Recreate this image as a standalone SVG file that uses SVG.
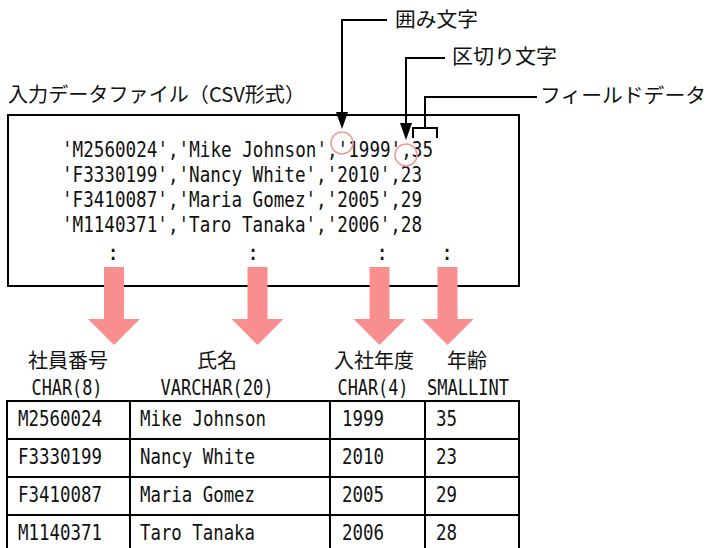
<svg xmlns="http://www.w3.org/2000/svg" width="708" height="548" viewBox="0 0 708 548">
<style>
.jp{font-family:"Noto Sans CJK JP","Noto Sans",sans-serif;font-size:20px;fill:#111}
.mono{font-family:"DejaVu Sans Mono","Liberation Mono",monospace;font-size:21px;fill:#111}
.typ{font-family:"DejaVu Sans Mono","Liberation Mono",monospace;font-size:22px;fill:#111}
.ln{stroke:#000;stroke-width:2;fill:none}
.circ{stroke:#f29a9a;stroke-width:1.6;fill:none}
.pk{fill:#f88e8e}
.cell{fill:#fff;stroke:#000;stroke-width:2}
</style>
<defs>
<marker id="ah" viewBox="0 0 17 12" refX="0" refY="6" markerWidth="17" markerHeight="12" markerUnits="userSpaceOnUse" orient="auto">
<path d="M0,0 L17,6 L0,12 Z" fill="#000"/>
</marker>
<path id="bigArrow" d="M-10,0 L10,0 L10,52 L26,52 L0,78 L-26,52 L-10,52 Z"/>
</defs>
<rect width="708" height="548" fill="#fff"/>

<g id="input-file">
<text class="jp" x="8" y="102" textLength="297" lengthAdjust="spacingAndGlyphs">入力データファイル（CSV形式）</text>
<rect x="8" y="115" width="511" height="171" fill="#fff" stroke="#000" stroke-width="2"/>
<text class="mono" x="62" y="157" textLength="371" lengthAdjust="spacingAndGlyphs">'M2560024','Mike Johnson','1999',35</text>
<text class="mono" x="62" y="182" textLength="360" lengthAdjust="spacingAndGlyphs">'F3330199','Nancy White','2010',23</text>
<text class="mono" x="62" y="207" textLength="360" lengthAdjust="spacingAndGlyphs">'F3410087','Maria Gomez','2005',29</text>
<text class="mono" x="62" y="232" textLength="360" lengthAdjust="spacingAndGlyphs">'M1140371','Taro Tanaka','2006',28</text>
<text class="mono" x="113" y="260" text-anchor="middle">:</text>
<text class="mono" x="253" y="260" text-anchor="middle">:</text>
<text class="mono" x="382" y="260" text-anchor="middle">:</text>
<text class="mono" x="447" y="260" text-anchor="middle">:</text>
<circle class="circ" cx="342" cy="143" r="11"/>
<circle class="circ" cx="406" cy="155" r="11"/>
</g>

<g id="callout-enclosure">
<text class="jp" x="395" y="27" textLength="83" lengthAdjust="spacingAndGlyphs">囲み文字</text>
</g>
<g id="callout-delimiter">
<text class="jp" x="452" y="64" textLength="105" lengthAdjust="spacingAndGlyphs">区切り文字</text>
</g>
<g id="callout-field">
<text class="jp" x="540" y="103" textLength="166" lengthAdjust="spacingAndGlyphs">フィールドデータ</text>
</g>

<g id="connectors">
<path class="ln" d="M387,20 H342 V112" marker-end="url(#ah)"/>
<path class="ln" d="M445,58 H406 V123" marker-end="url(#ah)"/>
<path class="ln" d="M537,97 H425 V128"/>
<path class="ln" d="M413,138 V128 H437 V138"/>
<g class="pk">
<use href="#bigArrow" x="114" y="267"/>
<use href="#bigArrow" x="257.5" y="267"/>
<use href="#bigArrow" x="379.5" y="267"/>
<use href="#bigArrow" x="447.5" y="267"/>
</g>
</g>

<g id="headers">
<text class="jp" x="68" y="368" text-anchor="middle">社員番号</text>
<text class="typ" x="67" y="395" text-anchor="middle" textLength="71" lengthAdjust="spacingAndGlyphs">CHAR(8)</text>
<text class="jp" x="217" y="368" text-anchor="middle">氏名</text>
<text class="typ" x="217" y="395" text-anchor="middle" textLength="113" lengthAdjust="spacingAndGlyphs">VARCHAR(20)</text>
<text class="jp" x="374" y="368" text-anchor="middle">入社年度</text>
<text class="typ" x="373" y="395" text-anchor="middle" textLength="71" lengthAdjust="spacingAndGlyphs">CHAR(4)</text>
<text class="jp" x="467" y="368" text-anchor="middle">年齢</text>
<text class="typ" x="468" y="395" text-anchor="middle" textLength="82" lengthAdjust="spacingAndGlyphs">SMALLINT</text>
</g>

<g id="table">
<rect class="cell" x="7" y="401" width="512" height="160"/>
<path class="ln" d="M7,439 H519 M7,477 H519 M7,515 H519 M130,401 V561 M330,401 V561 M425,401 V561"/>
<text class="mono" x="18" y="426" textLength="84" lengthAdjust="spacingAndGlyphs">M2560024</text>
<text class="mono" x="140" y="426" textLength="126" lengthAdjust="spacingAndGlyphs">Mike Johnson</text>
<text class="mono" x="342" y="426" textLength="42" lengthAdjust="spacingAndGlyphs">1999</text>
<text class="mono" x="436" y="426" textLength="21" lengthAdjust="spacingAndGlyphs">35</text>
<text class="mono" x="18" y="464" textLength="84" lengthAdjust="spacingAndGlyphs">F3330199</text>
<text class="mono" x="140" y="464" textLength="115" lengthAdjust="spacingAndGlyphs">Nancy White</text>
<text class="mono" x="342" y="464" textLength="42" lengthAdjust="spacingAndGlyphs">2010</text>
<text class="mono" x="436" y="464" textLength="21" lengthAdjust="spacingAndGlyphs">23</text>
<text class="mono" x="18" y="502" textLength="84" lengthAdjust="spacingAndGlyphs">F3410087</text>
<text class="mono" x="140" y="502" textLength="115" lengthAdjust="spacingAndGlyphs">Maria Gomez</text>
<text class="mono" x="342" y="502" textLength="42" lengthAdjust="spacingAndGlyphs">2005</text>
<text class="mono" x="436" y="502" textLength="21" lengthAdjust="spacingAndGlyphs">29</text>
<text class="mono" x="18" y="540" textLength="84" lengthAdjust="spacingAndGlyphs">M1140371</text>
<text class="mono" x="140" y="540" textLength="115" lengthAdjust="spacingAndGlyphs">Taro Tanaka</text>
<text class="mono" x="342" y="540" textLength="42" lengthAdjust="spacingAndGlyphs">2006</text>
<text class="mono" x="436" y="540" textLength="21" lengthAdjust="spacingAndGlyphs">28</text>
</g>
</svg>
